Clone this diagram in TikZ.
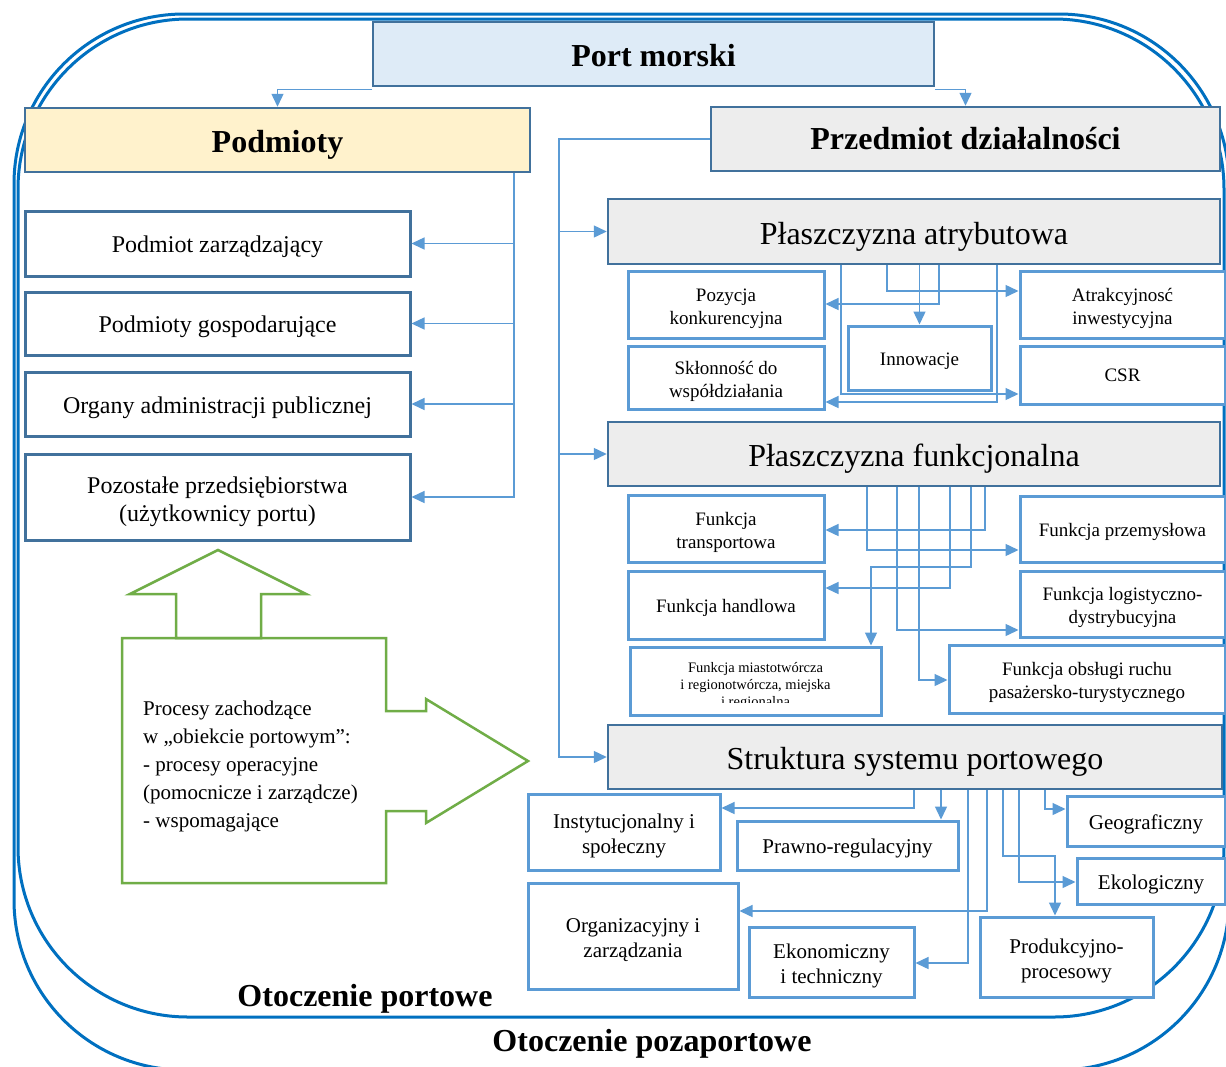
\documentclass[tikz,border=0pt]{standalone}
\usepackage{fontspec}
\setmainfont{Liberation Serif}
\usetikzlibrary{arrows.meta}
\definecolor{hdrb}{HTML}{41719C}
\definecolor{subb}{HTML}{5B9BD5}
\definecolor{lnc}{HTML}{5B9BD5}
\definecolor{frc}{HTML}{0070C0}
\definecolor{grn}{HTML}{70AD47}
\definecolor{portfill}{HTML}{DEEBF7}
\definecolor{podfill}{HTML}{FFF2CC}
\definecolor{grayfill}{HTML}{EDEDED}
\newcommand\myfs[2]{\fontsize{#1}{#2}\selectfont}
\newcommand\mystrut{\rule{0pt}{1.1em}}
\newcommand\mystrutht{1em}
\begin{document}
\begin{tikzpicture}[x=1pt,y=-1pt,
  sft/.code={\def\mystrutht{#1}},
  hbox/.style={draw=hdrb, line width=2.5pt, inner sep=0pt, align=center, execute at begin node={\rule{0pt}{\mystrutht}}},
  lbox/.style={draw=hdrb, line width=3pt, fill=white, inner sep=0pt, align=center, font=\myfs{24}{28}, execute at begin node={\rule{0pt}{\mystrutht}}},
  rbox/.style={draw=subb, line width=3pt, fill=white, inner sep=0pt, align=center, execute at begin node={\rule{0pt}{\mystrutht}}},
  afont/.style={font=\myfs{19}{23}},
  sfont/.style={font=\myfs{21}{25}},
  conn/.style={draw=lnc, line width=1.4pt, -{Triangle[length=13pt,width=12pt]}},
  frame/.style={draw=frc, line width=3pt, rounded corners=170pt},
  gshape/.style={draw=grn, line width=2.5pt, line join=miter},
  lbl/.style={font=\bfseries\myfs{32}{38}, inner sep=0pt}
]
\useasboundingbox (0,0) rectangle (1226,1066);
\fill[white] (0,0) rectangle (1226,1066);
\clip (0,0) rectangle (1226,1066);

% environment frames
\draw[frame] (18,19) rectangle (1224,1017);
\draw[frame] (14,14) rectangle (1229,1070);
\node[lbl] (otp) at (365,999) {Otoczenie portowe};
\node[lbl] (otz) at (652,1044) {Otoczenie pozaportowe};

% headers
\node[hbox, sft=0.8em, fill=portfill, minimum width=561pt, minimum height=64pt, font=\bfseries\myfs{32}{38}] (port) at (653.5,54) {Port morski};
\node[hbox, fill=podfill, minimum width=505pt, minimum height=64pt, font=\bfseries\myfs{32}{38}] (podm) at (277.5,140) {Podmioty};
\node[hbox, sft=0pt, fill=grayfill, minimum width=509pt, minimum height=64pt, font=\bfseries\myfs{32}{38}] (przed) at (965.5,139) {Przedmiot działalności};

\draw[conn] ([yshift=-2pt]port.south west) -| (podm.north);
\draw[conn] ([yshift=-2pt]port.south east) -| (przed.north);

% left column
\node[lbox, minimum width=385pt, minimum height=65pt] (pz) at (217.5,243.5) {Podmiot zarządzający};
\node[lbox, minimum width=385pt, minimum height=63pt] (pg) at (217.5,323.5) {Podmioty gospodarujące};
\node[lbox, minimum width=385pt, minimum height=64pt] (oa) at (217.5,404) {Organy administracji publicznej};
\node[lbox, minimum width=385pt, minimum height=86pt] (pp) at (217.5,497) {\mystrut Pozostałe przedsiębiorstwa\\(użytkownicy portu)};

\coordinate (lb) at (514,0);
\draw[conn] (podm.south -| lb) |- (pz.east);
\draw[conn] (podm.south -| lb) |- (pg.east);
\draw[conn] (podm.south -| lb) |- (oa.east);
\draw[conn] (podm.south -| lb) |- (pp.east);

% planes
\node[hbox, fill=grayfill, minimum width=612pt, minimum height=65pt, font=\myfs{32}{38}] (pa) at (914,231.5) {Płaszczyzna atrybutowa};
\node[hbox, fill=grayfill, minimum width=612pt, minimum height=64pt, font=\myfs{32}{38}] (pf) at (914,454) {Płaszczyzna funkcjonalna};
\node[hbox, fill=grayfill, minimum width=614pt, minimum height=64pt, font=\myfs{32}{38}] (ss) at (915,757) {Struktura systemu portowego};

\coordinate (rb) at (559,0);
\draw[conn] (przed.west) -| (pa.west -| rb) -- (pa.west);
\draw[conn] (przed.west) -| (pf.west -| rb) -- (pf.west);
\draw[conn] (przed.west) -| (ss.west -| rb) -- (ss.west);

% attribute plane
\node[rbox, afont, minimum width=196pt, minimum height=67pt] (poz) at (726,304.5) {\mystrut Pozycja\\konkurencyjna};
\node[rbox, afont, minimum width=196pt, minimum height=63pt] (skl) at (726,377.5) {\mystrut Skłonność do\\współdziałania};
\node[rbox, afont, minimum width=143pt, minimum height=64pt] (inn) at (919.5,358) {Innowacje};
\node[rbox, afont, minimum width=205pt, minimum height=67pt] (atr) at (1122.5,304.5) {\mystrut Atrakcyjnosć\\inwestycyjna};
\node[rbox, afont, sft=0pt, minimum width=205pt, minimum height=58pt] (csr) at (1122.5,375) {CSR};

\draw[conn] (pa.south -| 997,0) |- (skl.east |- 0,402);
\draw[conn] (pa.south -| 841,0) |- (csr.west |- 0,394);
\draw[conn] (pa.south -| 887,0) |- (atr.west |- 0,291);
\draw[conn] (pa.south -| 939,0) |- (poz.east |- 0,304);
\draw[conn] (pa.south -| inn.north) -- (inn.north);

% functional plane
\node[rbox, afont, minimum width=196pt, minimum height=67pt] (ft) at (726,528.5) {\mystrut Funkcja\\transportowa};
\node[rbox, afont, minimum width=196pt, minimum height=68pt] (fh) at (726,605) {Funkcja handlowa};
\begin{scope}
\clip (630,647) rectangle (881,702);
\node[align=center, inner sep=0pt, font=\myfs{14.5}{17}] (fmt) at (755.5,686) {Funkcja miastotwórcza\\i regionotwórcza, miejska\\i regionalna};
\end{scope}
\node[rbox, fill=none, minimum width=251pt, minimum height=68pt] (fm) at (755.5,681) {};
\node[rbox, afont, minimum width=205pt, minimum height=66pt] (fp) at (1122.5,529) {Funkcja przemysłowa};
\node[rbox, afont, minimum width=205pt, minimum height=66pt] (fl) at (1122.5,604) {\mystrut Funkcja logistyczno-\\dystrybucyjna};
\node[rbox, afont, minimum width=276pt, minimum height=68pt] (fo) at (1087,679) {\mystrut Funkcja obsługi ruchu\\pasażersko-turystycznego};

\draw[conn] (pf.south -| 985,0) |- (ft.east |- 0,530);
\draw[conn] (pf.south -| 867,0) |- (fp.west |- 0,550);
\coordinate (fmk) at (871,567);
\draw[conn] (pf.south -| 971,0) |- (fmk) -- (fm.north -| fmk);
\draw[conn] (pf.south -| 950,0) |- (fh.east |- 0,588);
\draw[conn] (pf.south -| 897,0) |- (fl.west |- 0,630);
\draw[conn] (pf.south -| 919,0) |- (fo.west |- 0,680);

% structure
\node[rbox, sfont, minimum width=192pt, minimum height=76pt] (ins) at (624,832) {\mystrut Instytucjonalny i\\społeczny};
\node[rbox, sfont, minimum width=221pt, minimum height=49pt] (prw) at (847.5,845.5) {Prawno-regulacyjny};
\node[rbox, sfont, minimum width=158pt, minimum height=50pt] (geo) at (1146,821) {Geograficzny};
\node[rbox, sfont, minimum width=148pt, minimum height=46pt] (eko) at (1151,881) {Ekologiczny};
\node[rbox, sfont, minimum width=210pt, minimum height=106pt] (org) at (633,936) {\mystrut Organizacyjny i\\zarządzania};
\node[rbox, sfont, minimum width=165pt, minimum height=70pt] (ekn) at (831.5,962) {\mystrut Ekonomiczny\\i techniczny};
\node[rbox, sfont, minimum width=173pt, minimum height=80pt] (prd) at (1066.5,957) {\mystrut Produkcyjno-\\procesowy};

\draw[conn] (ss.south -| 914,0) |- (ins.east |- 0,808);
\draw[conn] (ss.south -| 941,0) -- (prw.north -| 941,0);
\draw[conn] (ss.south -| 968,0) |- (ekn.east |- 0,963);
\draw[conn] (ss.south -| 987,0) |- (org.east |- 0,911);
\coordinate (prk) at (1055,856);
\draw[conn] (ss.south -| 1003,0) |- (prk) -- (prd.north -| prk);
\draw[conn] (ss.south -| 1019,0) |- (eko.west |- 0,882);
\draw[conn] (ss.south -| 1045,0) |- (geo.west |- 0,809);

% green process arrows
\draw[gshape] (176,638) -- (176,594) -- (130,594) -- (218,550) -- (306,594) -- (261,594) -- (261,638) -- cycle;
\draw[gshape] (122,638) -- (386,638) -- (386,711) -- (426,711) -- (426,699) -- (528,761) -- (426,823) -- (426,811) -- (386,811) -- (386,883) -- (122,883) -- cycle;
\node[anchor=west, align=left, inner sep=0pt, font=\myfs{21}{28}] (proc) at (143,766) {Procesy zachodzące\\w „obiekcie portowym”:\\- procesy operacyjne\\(pomocnicze i zarządcze)\\- wspomagające};
\end{tikzpicture}
\end{document}
